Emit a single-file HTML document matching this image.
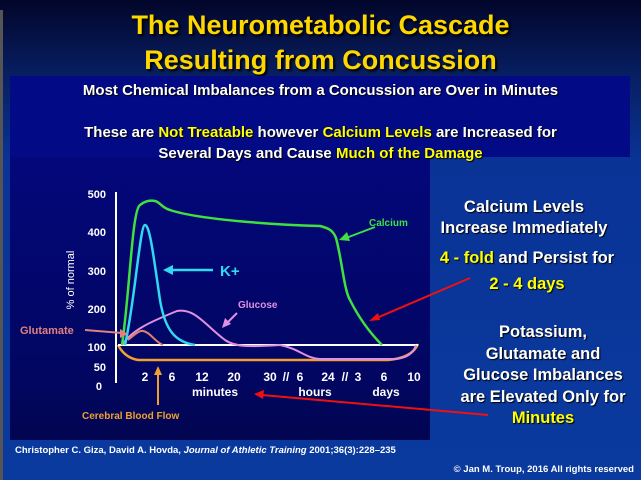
<!DOCTYPE html>
<html><head><style>
body{margin:0;width:641px;height:480px;overflow:hidden;background:linear-gradient(#02052a 0px,#071d5e 70px,#0a3396 160px,#0a3a9e 480px);font-family:"Liberation Sans",sans-serif;font-weight:bold;position:relative}
.t{position:absolute;left:0;width:641px;text-align:center;color:#ffd700;font-size:27px;text-shadow:2px 2px 2px #000;line-height:30px}
.box{position:absolute;left:10px;top:76px;width:620px;height:81px;background:#020a86}
.w{color:#fff;text-shadow:1px 1px 1px #000}
.y{color:#ffff00}
.p{position:absolute;left:10px;top:157px;width:340px;height:283px;background:linear-gradient(#03077a,#020660 80%,#020550)}
.rt{position:absolute;text-align:center;color:#fff;font-size:16.5px;text-shadow:1px 1px 1px #000}
</style></head><body>
<div style="position:absolute;left:0;top:10px;width:3px;height:470px;background:#555"></div>
<div class="t" style="top:10px">The Neurometabolic Cascade</div>
<div class="t" style="top:45px">Resulting from Concussion</div>
<div class="box"></div>
<div class="p" style="width:420px"></div>
<div class="w" style="position:absolute;left:0;width:641px;text-align:center;top:82px;font-size:15px">Most Chemical Imbalances from a Concussion are Over in Minutes</div>
<div class="w" style="position:absolute;left:0;width:641px;text-align:center;top:122px;font-size:15px;line-height:21px">These are <span class="y">Not Treatable</span> however <span class="y">Calcium Levels</span> are Increased for<br>Several Days and Cause <span class="y">Much of the Damage</span></div>
<svg style="position:absolute;left:0;top:0" width="641" height="480" font-family="Liberation Sans" font-weight="bold">
<g fill="#fff" font-size="11" text-anchor="end">
<text x="106" y="198">500</text><text x="106" y="236">400</text><text x="106" y="275">300</text><text x="106" y="313">200</text><text x="106" y="351">100</text><text x="106" y="371">50</text><text x="102" y="390">0</text>
</g>
<text transform="translate(74,280) rotate(-90)" fill="#fff" font-size="11" font-weight="normal" text-anchor="middle">% of normal</text>
<line x1="116" y1="192" x2="116" y2="383" stroke="#fff" stroke-width="2"/>
<path d="M118,345 Q125,358 138,360 L388,360 Q412,358 418,344" fill="none" stroke="#f0a030" stroke-width="2.5"/>
<line x1="118" y1="345" x2="418" y2="345" stroke="#fff" stroke-width="2"/>
<path d="M122,345 C132,330 150,322 177,311 C195,308 205,325 225,340 C235,347 250,347 280,345 C300,349 305,358 320,359 L395,359 C408,358 414,352 416,345" fill="none" stroke="#e090e0" stroke-width="2"/>
<path d="M128,340 C135,334 140,330 143,331 C150,332 155,342 163,345" fill="none" stroke="#e08070" stroke-width="2"/>
<path d="M125,345 C135,300 140,225 145,225 C150,225 154,260 160,300 C165,330 175,342 195,345" fill="none" stroke="#30d8f0" stroke-width="2.5"/>
<path d="M122,345 C130,290 132,210 140,205 C145,201 150,200 155,201 C160,202 162,208 170,210 C200,220 280,225 320,226 C328,228 333,230 336,238 C342,260 344,290 350,300 C360,320 372,335 382,345" fill="none" stroke="#40e040" stroke-width="2.5"/>
<g fill="#30d8f0"><line x1="213" y1="270" x2="170" y2="270" stroke="#30d8f0" stroke-width="2.5"/><path d="M163,270 L173,265 L173,275Z"/><text x="220" y="276" font-size="15">K+</text></g>
<g fill="#40e040"><line x1="375" y1="227" x2="346" y2="238" stroke="#40e040" stroke-width="2"/><path d="M339,240 L347,232 L350,241Z"/><text x="369" y="226" font-size="10">Calcium</text></g>
<g fill="#e090e0"><line x1="237" y1="313" x2="227" y2="323" stroke="#e090e0" stroke-width="2"/><path d="M222,328 L225,318 L231,324Z"/><text x="238" y="308" font-size="10">Glucose</text></g>
<g fill="#e08080"><line x1="85" y1="330" x2="122" y2="333" stroke="#e08080" stroke-width="2"/><path d="M128,334 L120,329 L120,338Z"/><text x="20" y="334" font-size="11">Glutamate</text></g>
<g fill="#f0a030"><line x1="158" y1="405" x2="158" y2="372" stroke="#f0a030" stroke-width="2"/><path d="M158,366 L154,375 L162,375Z"/><text x="82" y="419" font-size="10">Cerebral Blood Flow</text></g>
<g fill="#fff" font-size="12" text-anchor="middle">
<text x="145" y="381">2</text><text x="172" y="381">6</text><text x="202" y="381">12</text><text x="234" y="381">20</text><text x="270" y="381">30</text><text x="286" y="381">//</text><text x="300" y="381">6</text><text x="328" y="381">24</text><text x="345" y="381">//</text><text x="358" y="381">3</text><text x="384" y="381">6</text><text x="414" y="381">10</text>
<text x="215" y="396">minutes</text><text x="315" y="396">hours</text><text x="386" y="396">days</text>
</g>
<line x1="470" y1="278" x2="372" y2="320" stroke="#f01010" stroke-width="2"/>
<path d="M369,321 L378,313 L380,320Z" fill="#f01010"/>
<line x1="488" y1="415" x2="262" y2="395" stroke="#f01010" stroke-width="2"/>
<path d="M254,394 L264,390 L263,399Z" fill="#f01010"/>
<text x="15" y="453" fill="#fff" font-size="9.5">Christopher C. Giza, David A. Hovda, <tspan font-style="italic">Journal of Athletic Training</tspan> 2001;36(3):228–235</text>
<text x="634" y="472" fill="#fff" font-size="9.5" text-anchor="end">© Jan M. Troup,  2016  All rights reserved</text>
</svg>
<div class="rt" style="left:404px;top:197px;width:240px;line-height:21px">Calcium Levels<br>Increase Immediately</div>
<div class="rt" style="left:407px;top:245px;width:240px;line-height:26px"><span class="y">4 - fold</span> and Persist for<br><span class="y">2 - 4 days</span></div>
<div class="rt" style="left:423px;top:322px;width:240px;line-height:21.5px">Potassium,<br>Glutamate and<br>Glucose Imbalances<br>are Elevated Only for<br><span class="y">Minutes</span></div>
</body></html>
